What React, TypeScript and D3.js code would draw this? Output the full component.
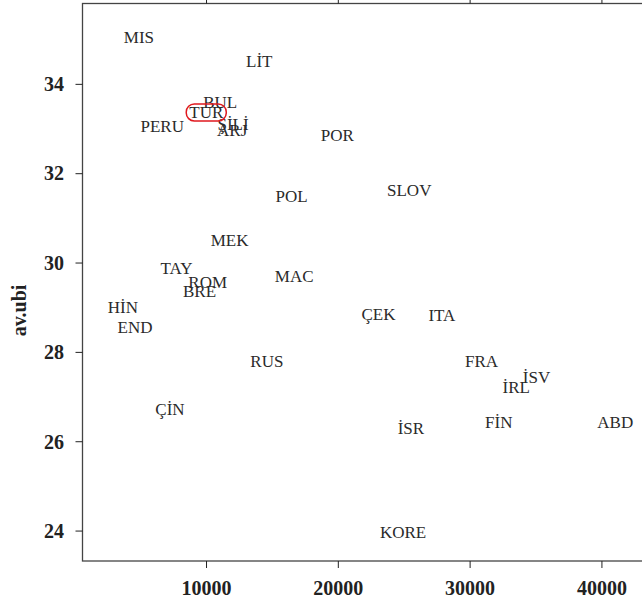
import React from "react";
import * as d3 from "d3";

const countries = ["MIS","LİT","BUL","TUR","PERU","ŞİLİ","ARJ","POR","SLOV","POL","MEK","TAY","MAC","ROM","BRE","HİN","END","RUS","ÇİN","ÇEK","ITA","FRA","İSV","İRL","FİN","ABD","İSR","KORE"];
const gdp = [4870,14000,11040,9980,6640,12010,11950,19920,25380,16460,11750,7720,16650,10090,9470,3660,4580,14580,7230,23050,27860,30870,35040,33500,32170,41010,25510,24910];
const inequality = [35.05,34.52,33.60,33.37,33.07,33.10,32.97,32.85,31.63,31.50,30.51,29.87,29.71,29.57,29.37,29.00,28.57,27.80,26.73,28.85,28.82,27.80,27.44,27.21,26.43,26.43,26.29,23.98];
const xTicks = [10000, 20000, 30000, 40000];
const yTicks = [24, 26, 28, 30, 32, 34];
const highlighted = "TUR";
const yTitle = "av.ubi";

export default function App() {
  const W = 642, H = 606;
  const left = 82.5, top = 3.5, bottom = 561;
  const x = d3.scaleLinear().domain([590, 44000]).range([left, left + (44000 - 590) * 0.01318]);
  const y = d3.scaleLinear().domain([23.33, 35.81]).range([bottom, top]);
  const right = x.range()[1];
  const axisColor = "#444";
  const serif = "'Liberation Serif', 'Times New Roman', serif";
  return (
    <svg width={W} height={H} style={{ position: "absolute", left: 0, top: 0, background: "#fff" }}>
      <rect x={left} y={top} width={right - left} height={bottom - top} fill="none" stroke={axisColor} strokeWidth={1.3} />
      {xTicks.map((t) => (
        <g key={"x" + t}>
          <line x1={x(t)} x2={x(t)} y1={bottom} y2={bottom + 7} stroke="#222" strokeWidth={1} />
          <line x1={x(t)} x2={x(t)} y1={top} y2={top - 7} stroke="#222" strokeWidth={1} />
          <text x={x(t)} y={595} textAnchor="middle" fontFamily={serif} fontWeight="bold" fontSize={20} fill="#222">{t}</text>
        </g>
      ))}
      {yTicks.map((t) => (
        <g key={"y" + t}>
          <line x1={left - 7} x2={left} y1={y(t)} y2={y(t)} stroke="#222" strokeWidth={1} />
          <text x={64} y={y(t)} dy="0.34em" textAnchor="end" fontFamily={serif} fontWeight="bold" fontSize={20} fill="#222">{t}</text>
        </g>
      ))}
      <text transform="translate(25.5,310.5) rotate(-90)" textAnchor="middle" fontFamily={serif} fontWeight="bold" fontSize={20} fill="#222">{yTitle}</text>
      {countries.map((c, i) => (
        <text key={c} x={x(gdp[i])} y={y(inequality[i])} dy="0.33em" textAnchor="middle" fontFamily={serif} fontSize={17} fill="#2a2a2a">{c}</text>
      ))}
      {countries.map((c, i) => c === highlighted ? (
        <rect key={"h" + c} x={x(gdp[i]) - 20} y={y(inequality[i]) - 8.5} width={40} height={17} rx={8} ry={8} fill="none" stroke="#e0191f" strokeWidth={1.5} />
      ) : null)}
    </svg>
  );
}
